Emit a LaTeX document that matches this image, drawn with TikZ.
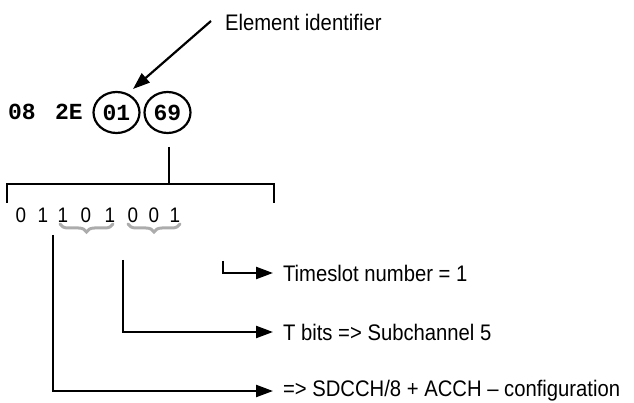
\documentclass[tikz,border=0pt]{standalone}
\usepackage{fontspec}
\setmainfont[FakeStretch=0.9]{Liberation Sans}
\newfontfamily\monob{Liberation Mono}
\usetikzlibrary{arrows.meta,decorations.pathreplacing,shapes.geometric}
\begin{document}
\begin{tikzpicture}[x=1pt,y=-1pt,
  line width=2.2pt,
  lbl/.style={font=\fontsize{22.5}{26}\selectfont, inner sep=0pt, anchor=west},
  bit/.style={font=\fontsize{21}{24}\selectfont, inner sep=0pt},
  hexb/.style={font=\monob\bfseries\fontsize{23}{26}\selectfont, inner sep=0pt},
  circ/.style={draw, ellipse, minimum width=46pt, minimum height=41pt, inner sep=0pt},
  arr/.style={-{Triangle[length=17pt,width=12pt]}},
  gbrace/.style={draw=gray!65, line width=3pt, line cap=round, decorate, decoration={brace, amplitude=8pt}}
]
\useasboundingbox (0,0) rectangle (634,403);
% header
\node[lbl] (eid) at (224,22) {Element identifier};
\node[hexb] (h08) at (22,112) {08};
\node[hexb] (h2e) at (69,112) {2E};
\node[hexb, circ] (h01) at (116.5,112.5) {01};
\node[hexb, circ] (h69) at (167.5,112.5) {69};
\coordinate (as) at (211,21);
\draw[arr] (as) -- (133,89);
% stem & bracket
\coordinate (stemb) at (169,184);
\draw (169,147) -- (stemb);
\draw (7,203) -- (7,184) -- (274,184) -- (274,203);
% bits
\foreach \x/\d [count=\i] in {21/0,43/1,63/1,86/0,110/1,133/0,154/0,175/1}
  \node[bit] (b\i) at (\x,215) {\d};
% braces
\draw[gbrace] (113,224) -- (60,224);
\draw[gbrace] (180,224) -- (128,224);
% labels
\node[lbl] (ts) at (282,273) {Timeslot number = 1};
\node[lbl] (tb) at (282,332) {T bits => Subchannel 5};
\node[lbl] (sd) at (282,391) {=> SDCCH/8 + ACCH -- configuration};
% connectors
\coordinate (c1) at (223,261);
\coordinate (c2) at (123,260);
\coordinate (c3) at (53,235);
\draw[arr] (c1) |- ([xshift=-9pt]ts.west);
\draw[arr] (c2) |- ([xshift=-9pt]tb.west);
\draw[arr] (c3) |- ([xshift=-9pt]sd.west);
\end{tikzpicture}
\end{document}
